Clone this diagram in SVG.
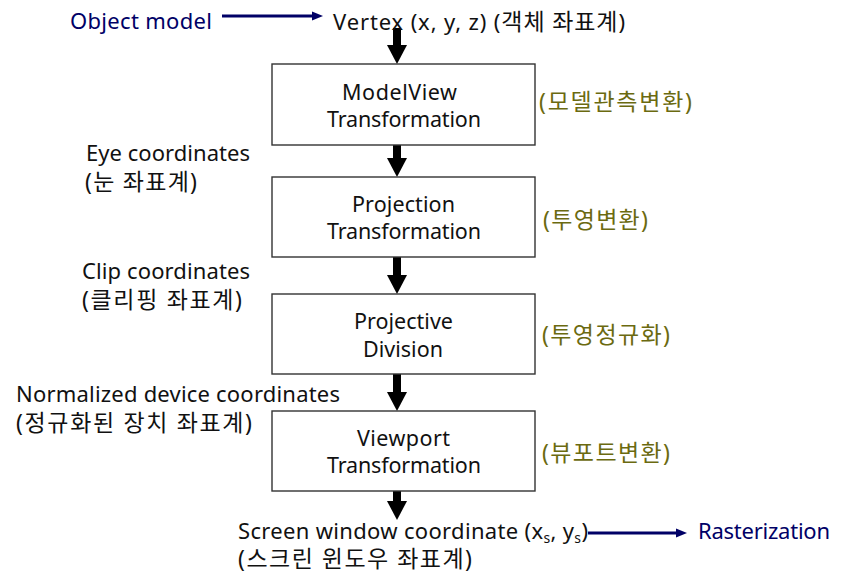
<svg xmlns="http://www.w3.org/2000/svg" width="852" height="574" viewBox="0 0 852 574">
<style>
text{font-family:"Noto Sans","Noto Sans CJK KR",sans-serif;font-size:22px;fill:#111}
.bx{font-size:21.5px}
.ko{font-size:23px}
.blue{fill:#000066}
.olive{fill:#6b6a10}
.box{fill:#fff;stroke:#333;stroke-width:1.4}
.thick{stroke:#000;stroke-width:8;fill:none}
.thin{stroke:#000066;stroke-width:3;fill:none}
.sub{font-size:14px}
</style>
<defs>
<marker id="bh" markerUnits="userSpaceOnUse" markerWidth="20" markerHeight="20" viewBox="0 0 20 20" refX="0" refY="10" orient="auto"><path d="M0,0 L19,10 L0,20 z" fill="#000"/></marker>
<marker id="nh" markerUnits="userSpaceOnUse" markerWidth="11" markerHeight="10" viewBox="0 0 11 10" refX="0" refY="5" orient="auto"><path d="M0,0.5 L11,5 L0,9.5 z" fill="#000066"/></marker>
</defs>
<rect width="852" height="574" fill="#fff"/>
<g id="connectors">
<line class="thin" x1="222" y1="16" x2="312" y2="16" marker-end="url(#nh)"/>
<line class="thin" x1="588" y1="533" x2="676" y2="533" marker-end="url(#nh)"/>
<line class="thick" x1="397" y1="28" x2="397" y2="45" marker-end="url(#bh)"/>
<line class="thick" x1="397" y1="145" x2="397" y2="158" marker-end="url(#bh)"/>
<line class="thick" x1="397" y1="257" x2="397" y2="275" marker-end="url(#bh)"/>
<line class="thick" x1="397" y1="374" x2="397" y2="392" marker-end="url(#bh)"/>
<line class="thick" x1="397" y1="491" x2="397" y2="501" marker-end="url(#bh)"/>
</g>
<g id="object-model"><text class="blue" x="70" y="29" textLength="142">Object model</text></g>
<g id="vertex"><text x="333" y="30" textLength="292">Vertex (x, y, z) (<tspan class="ko">객체 좌표계</tspan>)</text></g>
<g id="modelview">
<rect class="box" x="272" y="64" width="263" height="81"/>
<text class="bx" x="342" y="100" textLength="115">ModelView</text>
<text class="bx" x="327" y="127" textLength="154">Transformation</text>
<text class="olive ko" x="539" y="110" textLength="153">(모델관측변환)</text>
</g>
<g id="eye"><text x="86" y="161" textLength="164">Eye coordinates</text><text class="ko" x="85" y="190" textLength="112">(눈 좌표계)</text></g>
<g id="projection">
<rect class="box" x="272" y="177" width="263" height="80"/>
<text class="bx" x="352" y="212" textLength="103">Projection</text>
<text class="bx" x="327" y="239" textLength="154">Transformation</text>
<text class="olive ko" x="543" y="228" textLength="105">(투영변환)</text>
</g>
<g id="clip"><text x="82" y="279" textLength="168">Clip coordinates</text><text class="ko" x="82" y="308" textLength="160">(클리핑 좌표계)</text></g>
<g id="division">
<rect class="box" x="272" y="294" width="263" height="80"/>
<text class="bx" x="354" y="329" textLength="99">Projective</text>
<text class="bx" x="363" y="357" textLength="80">Division</text>
<text class="olive ko" x="542" y="343" textLength="128">(투영정규화)</text>
</g>
<g id="ndc"><text x="16" y="402" textLength="324">Normalized device coordinates</text><text class="ko" x="16" y="431" textLength="236">(정규화된 장치 좌표계)</text></g>
<g id="viewport">
<rect class="box" x="272" y="411" width="263" height="80"/>
<text class="bx" x="357" y="446" textLength="93">Viewport</text>
<text class="bx" x="327" y="473" textLength="154">Transformation</text>
<text class="olive ko" x="542" y="461" textLength="128">(뷰포트변환)</text>
</g>
<g id="screen"><text x="238" y="539" textLength="350">Screen window coordinate (x<tspan class="sub" dy="4">s</tspan><tspan dy="-4">, y</tspan><tspan class="sub" dy="4">s</tspan><tspan dy="-4">)</tspan></text><text class="ko" x="238" y="567" textLength="234">(스크린 윈도우 좌표계)</text></g>
<g id="rasterization"><text class="blue" x="698" y="539" textLength="132">Rasterization</text></g>
</svg>
